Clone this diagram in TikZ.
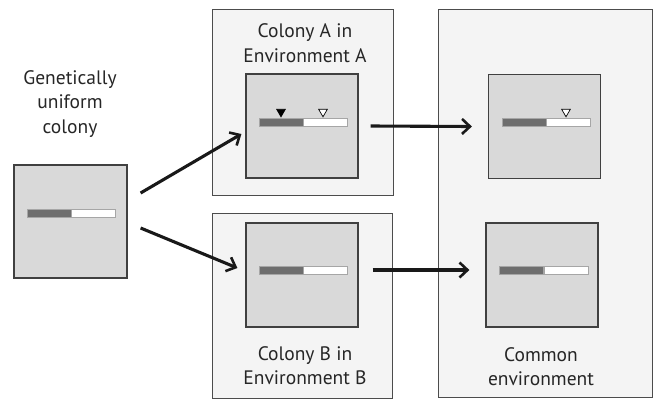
\documentclass[tikz,border=0pt]{standalone}
\usepackage{fontspec}
\setmainfont{PT Sans}
\usetikzlibrary{
  arrows.meta,
  calc,
  positioning,
  shapes.geometric
}

\definecolor{envfill}{HTML}{F4F4F4}
\definecolor{colfill}{HTML}{D9D9D9}
\definecolor{darkseg}{HTML}{6E6E6E}

\begin{document}
\begin{tikzpicture}[x=1pt, y=-1pt]

\tikzset{
  envbox/.style={
    draw=black!70,
    fill=envfill,
    line width=0.8pt,
    inner sep=0pt
  },
  colbox/.style={
    draw=black!75,
    fill=colfill,
    line width=1.2pt,
    inner sep=0pt,
    minimum width=112pt,
    minimum height=104pt
  },
  darkbar/.style={
    draw=black!35,
    fill=darkseg,
    line width=0.5pt,
    inner sep=0pt,
    minimum width=44pt,
    minimum height=8pt
  },
  whitebar/.style={
    draw=black!35,
    fill=white,
    line width=0.5pt,
    inner sep=0pt,
    minimum width=44pt,
    minimum height=8pt
  },
  tri/.style={
    draw=black,
    isosceles triangle,
    isosceles triangle apex angle=60,
    shape border rotate=270,
    inner sep=0pt,
    minimum height=7.5pt,
    line width=0.7pt
  },
  label/.style={
    font=\fontsize{19.5}{24.5}\selectfont,
    align=center,
    text=black!85
  },
  >={Straight Barb[length=8pt, width=15pt, line width=2.6pt]},
  flow/.style={->, line width=3.1pt, black!90}
}

\useasboundingbox (0,0) rectangle (654,400);

% Environment frames
\node[envbox, minimum width=181pt, minimum height=186pt] (envA) at (302.5,102) {};
\node[envbox, minimum width=180pt, minimum height=185pt] (envB) at (302,305.5) {};
\node[envbox, minimum width=214pt, minimum height=388pt] (envC) at (545,203) {};

% Colonies
\node[colbox, minimum width=113pt, minimum height=113pt] (uni) at (70.5,221.5) {};
\node[colbox] (colA) at (302,126) {};
\node[colbox] (colB) at (302,275) {};
\node[colbox] (comA) at (544.5,126.5) {};
\node[colbox] (comB) at (542,275) {};

% Genome bars
\node[darkbar]  (uniL)  at (49,213.5) {};
\node[whitebar] (uniR)  [right=0pt of uniL] {};
\node[darkbar]  (colAL) at (281,122) {};
\node[whitebar] (colAR) [right=0pt of colAL] {};
\node[darkbar]  (colBL) at (281,270.5) {};
\node[whitebar] (colBR) [right=0pt of colBL] {};
\node[darkbar]  (comAL) at (524,122) {};
\node[whitebar] (comAR) [right=0pt of comAL] {};
\node[darkbar]  (comBL) at (521.5,270) {};
\node[whitebar] (comBR) [right=0pt of comBL] {};

% Markers
\node[tri, fill=black, anchor=apex] (mA1) at (281,117.5) {};
\node[tri, fill=white, anchor=apex] (mA2) at (323,117.5) {};
\node[tri, fill=white, anchor=apex] (mC1) at (566,117.5) {};

% Labels
\node[label] (tuni) at (70,104)    {Genetically\\uniform\\colony};
\node[label] (tA)   at (305,43)    {Colony A in\\Environment A};
\node[label] (tB)   at (305,365.5) {Colony B in\\Environment B};
\node[label] (tC)   at (541,366.5) {Common\\environment};

% Arrows
\draw[flow] ($(uni.east)+(13,-28.5)$) -- ($(colA.west)+(-4,8)$);
\draw[flow] ($(uni.east)+(13,6.5)$)   -- ($(colB.west)+(-8,-7)$);
\draw[flow] ($(colA.east)+(12,0)$)    -- ($(comA.west)+(-16,0)$);
\draw[flow] ($(colB.east)+(14,-5)$)   -- ($(comB.west)+(-16,-5)$);

\end{tikzpicture}
\end{document}
